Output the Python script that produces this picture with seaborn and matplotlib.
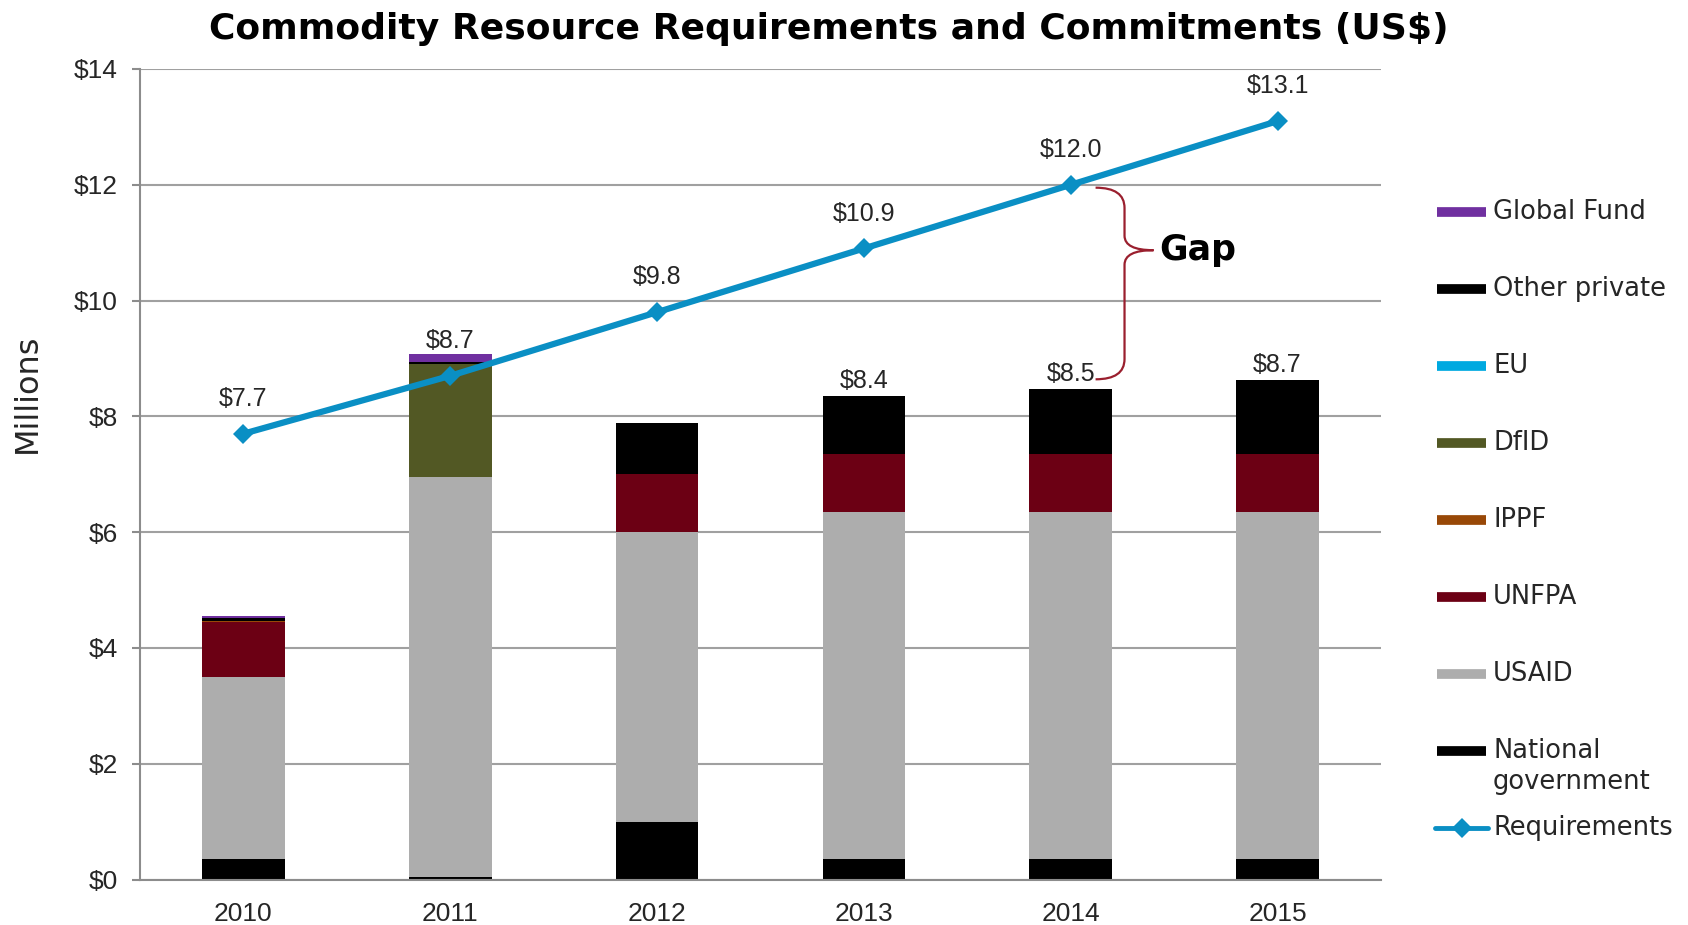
import numpy as np
import matplotlib
matplotlib.use("Agg")
from matplotlib import pyplot as plt
from matplotlib.lines import Line2D
from matplotlib.path import Path
from matplotlib.patches import PathPatch
import seaborn as sns

years = ["2010", "2011", "2012", "2013", "2014", "2015"]
national_government = [0.35, 0.05, 1.00, 0.35, 0.35, 0.35]
usaid = [3.15, 6.91, 5.00, 6.00, 6.00, 6.00]
unfpa = [0.94, 0.00, 1.00, 1.00, 1.00, 1.00]
ippf = [0.03, 0.00, 0.00, 0.00, 0.00, 0.00]
dfid = [0.00, 1.94, 0.00, 0.00, 0.00, 0.00]
eu = [0.00, 0.00, 0.00, 0.00, 0.00, 0.00]
other_private = [0.04, 0.04, 0.88, 1.01, 1.13, 1.28]
global_fund = [0.05, 0.13, 0.00, 0.00, 0.00, 0.00]
requirements = [7.7, 8.7, 9.8, 10.9, 12.0, 13.1]
req_labels = ["$7.7", "$8.7", "$9.8", "$10.9", "$12.0", "$13.1"]
bar_labels = ["", "", "", "$8.4", "$8.5", "$8.7"]
y_ticks = [0, 2, 4, 6, 8, 10, 12, 14]

# bottom -> top
sources = ["National\ngovernment", "USAID", "UNFPA", "IPPF", "DfID", "EU", "Other private", "Global Fund"]
layers = [national_government, usaid, unfpa, ippf, dfid, eu, other_private, global_fund]
colors = ["#000000", "#adadad", "#6c0014", "#984807", "#525824", "#00a9e0", "#000000", "#7030a0"]
line_color = "#0a8fc4"
text_color = "#262626"
num_font = ["Liberation Sans", "DejaVu Sans"]

sns.set_theme(style="white")
plt.rcParams['font.family'] = ['DejaVu Sans']

fig = plt.figure(figsize=(16.88, 9.25), dpi=100)
ax = fig.add_axes([140 / 1688, 1 - 879.5 / 925, (1381 - 140) / 1688, (879.5 - 69) / 925])

# stacked bars: draw cumulative totals from the top layer down
cum = np.cumsum(np.array(layers), axis=0)
for i in reversed(range(len(layers))):
    sns.barplot(x=years, y=cum[i], color=colors[i], width=0.4, saturation=1,
                linewidth=0, errorbar=None, ax=ax, zorder=2)

totals = cum[-1]
for i, t in enumerate(bar_labels):
    if t:
        ax.annotate(t, (i, totals[i]), xytext=(0, 2), textcoords="offset points",
                    ha="center", va="bottom", fontsize=18, color=text_color, family=num_font)

sns.lineplot(x=np.arange(len(years)), y=requirements, color=line_color, marker="D",
             markersize=10, markeredgewidth=0, linewidth=4.5, ax=ax, zorder=5)
for i, t in enumerate(req_labels):
    ax.annotate(t, (i, requirements[i]), xytext=(0, 25), textcoords="offset points",
                ha="center", va="center", fontsize=18, color=text_color, family=num_font)

# axes styling
ax.set_xlim(-0.5, len(years) - 0.5)
ax.set_ylim(0, 14)
ax.set_yticks(y_ticks)
ax.set_yticklabels([f"${v}" for v in y_ticks], fontsize=19, color=text_color, family=num_font)
ax.set_xticks(range(len(years)))
ax.set_xticklabels(years, fontsize=19, color=text_color, family=num_font)
ax.set_xticks(np.arange(-0.5, len(years), 1), minor=True)
ax.tick_params(axis="x", which="major", length=0, pad=16)
ax.tick_params(axis="x", which="minor", length=8, width=1.5, color="#8c8c8c", direction="out")
ax.tick_params(axis="y", length=6, width=1.5, color="#8c8c8c", direction="out", pad=10, left=True)
ax.set_axisbelow(True)
ax.yaxis.grid(True, color="#a0a0a0", linewidth=1.5)
ax.xaxis.grid(False)
for s in ["top", "right"]:
    ax.spines[s].set_visible(False)
for s in ["left", "bottom"]:
    ax.spines[s].set_color("#8c8c8c")
    ax.spines[s].set_linewidth(1.5)
ax.set_ylabel("Millions", fontsize=23, color=text_color)
ax.yaxis.set_label_coords(-0.078, 0.6)
ax.set_xlabel("")

# gap brace
x0, xm, xt = 4.12, 4.26, 4.40
ytop, ybot, ymid = 11.95, 8.64, 10.87
verts = [(x0, ytop), (xm, ytop), (xm, ytop - 0.35),
         (xm, ymid + 0.25), (xm, ymid), (xt, ymid),
         (xm, ymid), (xm, ymid - 0.25),
         (xm, ybot + 0.35), (xm, ybot), (x0, ybot)]
codes = [Path.MOVETO, Path.CURVE3, Path.CURVE3,
         Path.LINETO, Path.CURVE3, Path.CURVE3,
         Path.CURVE3, Path.CURVE3,
         Path.LINETO, Path.CURVE3, Path.CURVE3]
ax.add_patch(PathPatch(Path(verts, codes), fill=False, edgecolor="#9a1f2e", linewidth=1.6, zorder=6))
ax.text(4.43, ymid, "Gap", fontsize=25, weight="bold", ha="left", va="center", color="black")

# title
fig.text(0.491, 0.9686, "Commodity Resource Requirements and Commitments (US$)",
         ha="center", va="center", fontsize=26, weight="bold", color="black")

# legend, built by hand to keep even spacing
legend_names = sources[::-1] + ["Requirements"]
legend_colors = colors[::-1] + [line_color]
for k, (name, c) in enumerate(zip(legend_names, legend_colors)):
    yp = 1 - (212 + 77 * k) / 925
    if name == "Requirements":
        fig.add_artist(Line2D([1435 / 1688, 1488 / 1688], [yp, yp], transform=fig.transFigure,
                              color=c, lw=3.5, solid_capstyle="round"))
        fig.add_artist(Line2D([1461.5 / 1688], [yp], transform=fig.transFigure,
                              color=c, marker="D", markersize=10, markeredgewidth=0))
    else:
        fig.add_artist(Line2D([1437 / 1688, 1486 / 1688], [yp, yp], transform=fig.transFigure,
                              color=c, lw=7, solid_capstyle="butt"))
    for j, line in enumerate(name.split("\n")):
        fig.text(1493 / 1688, yp - j * 31 / 925, line, ha="left", va="center",
                 fontsize=18.5, color=text_color)

fig.savefig("out.png", dpi=100)
